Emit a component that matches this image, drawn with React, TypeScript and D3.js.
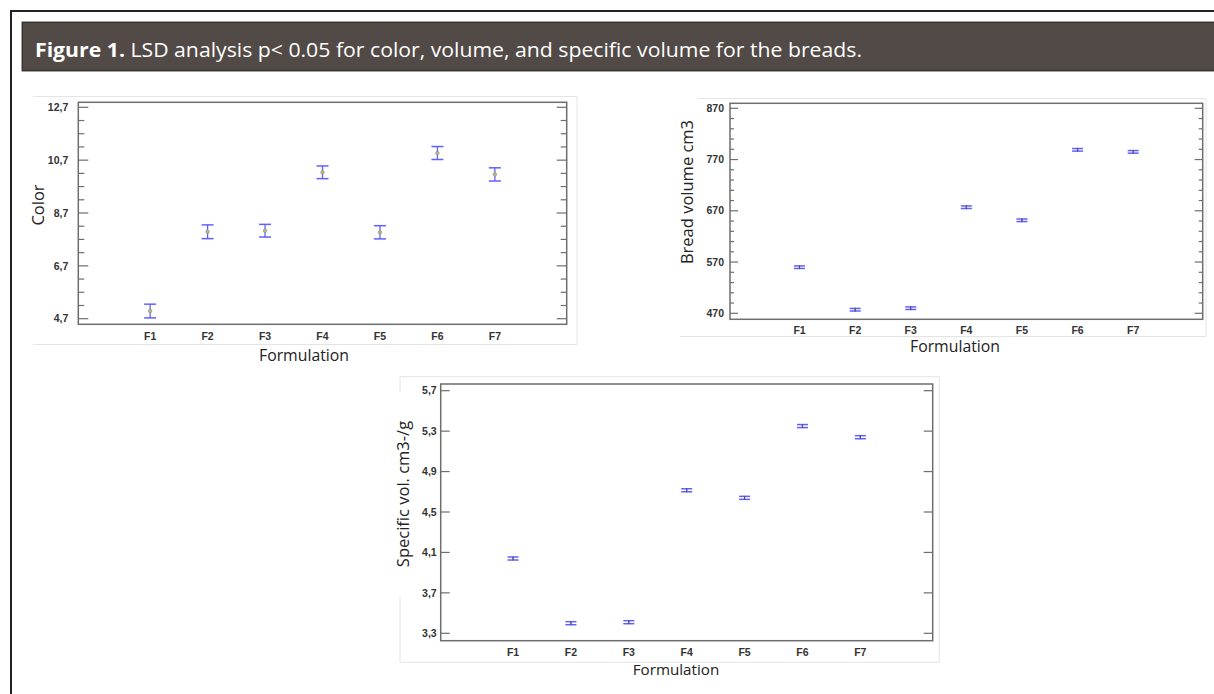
import React from "react";
import * as d3 from "d3";

const categories = ["F1", "F2", "F3", "F4", "F5", "F6", "F7"];

const colorMeans = [4.99, 7.99, 8.03, 10.24, 7.97, 10.97, 10.16];
const colorErrors = [0.26, 0.26, 0.24, 0.24, 0.25, 0.245, 0.25];
const colorTicks = [4.7, 6.7, 8.7, 10.7, 12.7];

const volumeMeans = [560, 477, 480, 677, 651.5, 789, 785];
const volumeErrors = [2.5, 2.5, 2.5, 2.5, 2.5, 2.5, 2.5];
const volumeTicks = [470, 570, 670, 770, 870];

const specMeans = [4.04, 3.4, 3.41, 4.715, 4.64, 5.35, 5.24];
const specErrors = [0.015, 0.015, 0.015, 0.015, 0.015, 0.015, 0.015];
const specTicks = [3.3, 3.7, 4.1, 4.5, 4.9, 5.3, 5.7];

const TITLE_BOLD = "Figure 1.";
const TITLE_REST = " LSD analysis p< 0.05 for color, volume, and specific volume for the breads.";

type ChartCfg = {
  means: number[];
  errors: number[];
  ticks: number[];
  minorStep: number;
  decimals: number;
  frame: { l: number; r: number; t: number; b: number };
  yPix: [number, number];
  majorLen: number;
  minorLen: number;
  labelGap: number;
  catY: number;
  yLabel: string;
  yLabelPos: [number, number];
  xLabelPos: [number, number];
  xLabelSize: number;
  capHalf: number;
  showDot: boolean;
  panel: { top: [number, number, number]; bottom: [number, number, number]; right?: [number, number, number]; left?: [number, number, number][] };
};

const tickFont = "'Liberation Sans', Arial, sans-serif";
const textFont = "'Open Sans', 'Noto Sans', sans-serif";
const axisColor = "#6e6e6e";
const barColor = "#6060ff";
const panelColor = "#e4e4e4";

function Chart({ c }: { c: ChartCfg }) {
  const lo = c.ticks[0];
  const hi = c.ticks[c.ticks.length - 1];
  const y = d3.scaleLinear().domain([lo, hi]).range(c.yPix);
  const x = d3.scalePoint<string>().domain(categories).range([c.frame.l, c.frame.r]).padding(1.25);
  const minors: number[] = [];
  if (c.minorStep > 0) {
    const n = Math.round((hi - lo) / c.minorStep);
    for (let i = 0; i <= n; i++) minors.push(lo + i * c.minorStep);
  }
  const fmt = (v: number) => v.toFixed(c.decimals).replace(".", ",");
  const isMajor = (v: number) => c.ticks.some((t) => Math.abs(t - v) < 1e-6);
  const allTicks = minors.length ? minors : c.ticks;
  return (
    <g>
      <line x1={c.panel.top[0]} x2={c.panel.top[1]} y1={c.panel.top[2]} y2={c.panel.top[2]} stroke={panelColor} />
      <line x1={c.panel.bottom[0]} x2={c.panel.bottom[1]} y1={c.panel.bottom[2]} y2={c.panel.bottom[2]} stroke={panelColor} />
      {c.panel.right && (
        <line x1={c.panel.right[0]} x2={c.panel.right[0]} y1={c.panel.right[1]} y2={c.panel.right[2]} stroke={panelColor} />
      )}
      {c.panel.left &&
        c.panel.left.map((s, i) => (
          <line key={i} x1={s[0]} x2={s[0]} y1={s[1]} y2={s[2]} stroke={panelColor} />
        ))}
      <rect x={c.frame.l} y={c.frame.t} width={c.frame.r - c.frame.l} height={c.frame.b - c.frame.t} fill="#fff" stroke={axisColor} strokeWidth={1.5} />
      {allTicks.map((v, i) => {
        const len = isMajor(v) ? c.majorLen : c.minorLen;
        const yy = y(v);
        return (
          <g key={i}>
            <line x1={c.frame.l} x2={c.frame.l + len} y1={yy} y2={yy} stroke={axisColor} strokeWidth={1.2} />
            <line x1={c.frame.r} x2={c.frame.r - len} y1={yy} y2={yy} stroke={axisColor} strokeWidth={1.2} />
          </g>
        );
      })}
      {c.ticks.map((v, i) => (
        <text key={i} x={c.frame.l - c.labelGap} y={y(v)} dy="0.35em" textAnchor="end" fontFamily={tickFont} fontWeight="bold" fontSize={10.5} fill="#333">
          {fmt(v)}
        </text>
      ))}
      {categories.map((cat) => (
        <text key={cat} x={x(cat)} y={c.catY} dy="0.35em" textAnchor="middle" fontFamily={tickFont} fontWeight="bold" fontSize={10.5} fill="#333">
          {cat}
        </text>
      ))}
      {categories.map((cat, i) => {
        const cx = x(cat) as number;
        const top = y(c.means[i] + c.errors[i]);
        const bot = y(c.means[i] - c.errors[i]);
        const m = y(c.means[i]);
        return (
          <g key={cat}>
            <line x1={cx} x2={cx} y1={top} y2={bot} stroke={barColor} strokeWidth={1.3} />
            <line x1={cx - c.capHalf} x2={cx + c.capHalf} y1={top} y2={top} stroke={barColor} strokeWidth={1.5} />
            <line x1={cx - c.capHalf} x2={cx + c.capHalf} y1={bot} y2={bot} stroke={barColor} strokeWidth={1.5} />
            {c.showDot ? (
              <circle cx={cx} cy={m} r={1.8} fill="#b8b890" stroke="#909070" strokeWidth={0.6} />
            ) : (
              <line x1={cx} x2={cx} y1={m - 2} y2={m + 2} stroke="#555" strokeWidth={1} />
            )}
          </g>
        );
      })}
      <text x={c.yLabelPos[0]} y={c.yLabelPos[1]} transform={`rotate(-90 ${c.yLabelPos[0]} ${c.yLabelPos[1]})`} dy="0.35em" textAnchor="middle" fontFamily={textFont} fontSize={16.5} fill="#222">
        {c.yLabel}
      </text>
      <rect x={c.xLabelPos[0] - 50} y={c.xLabelPos[1] - 6} width={100} height={14} fill="#fff" />
      <text x={c.xLabelPos[0]} y={c.xLabelPos[1]} dy="0.35em" textAnchor="middle" fontFamily={textFont} fontSize={c.xLabelSize} fill="#222">
        Formulation
      </text>
    </g>
  );
}

const chartColor: ChartCfg = {
  means: colorMeans,
  errors: colorErrors,
  ticks: colorTicks,
  minorStep: 0.5,
  decimals: 1,
  frame: { l: 78.3, r: 566.7, t: 102.3, b: 324.3 },
  yPix: [318.7, 107.3],
  majorLen: 10,
  minorLen: 6,
  labelGap: 10,
  catY: 336.7,
  yLabel: "Color",
  yLabelPos: [38.3, 205],
  xLabelPos: [304, 355],
  xLabelSize: 15.8,
  capHalf: 6,
  showDot: true,
  panel: { top: [33, 577, 96.5], bottom: [33, 577, 344.5], right: [577, 96.5, 344.5] },
};

const chartVolume: ChartCfg = {
  means: volumeMeans,
  errors: volumeErrors,
  ticks: volumeTicks,
  minorStep: 20,
  decimals: 0,
  frame: { l: 730, r: 1202.7, t: 103.3, b: 319.3 },
  yPix: [313.3, 108.3],
  majorLen: 8,
  minorLen: 4,
  labelGap: 6,
  catY: 330.7,
  yLabel: "Bread volume cm3",
  yLabelPos: [687, 192],
  xLabelPos: [955, 346.5],
  xLabelSize: 15.8,
  capHalf: 5.5,
  showDot: false,
  panel: { top: [698, 1206, 98.5], bottom: [680, 1206, 336.5], right: [1206, 98.5, 336.5] },
};

const chartSpec: ChartCfg = {
  means: specMeans,
  errors: specErrors,
  ticks: specTicks,
  minorStep: 0,
  decimals: 1,
  frame: { l: 440.7, r: 932.7, t: 384, b: 640.7 },
  yPix: [633.3, 390.7],
  majorLen: 9,
  minorLen: 9,
  labelGap: 4,
  catY: 652.8,
  yLabel: "Specific vol. cm3-/g",
  yLabelPos: [403, 494],
  xLabelPos: [676, 669.5],
  xLabelSize: 15.2,
  capHalf: 5.5,
  showDot: false,
  panel: { top: [400, 939.3, 376.7], bottom: [400, 939.3, 662.3], right: [939.3, 376.7, 662.3], left: [[400, 376.7, 392], [400, 596, 662.3]] },
};

export default function App() {
  return (
    <svg width={1214} height={694} style={{ position: "absolute", left: 0, top: 0, background: "#fff" }}>
      <rect x={0} y={0} width={1214} height={694} fill="#fff" />
      <line x1={11} x2={1214} y1={11} y2={11} stroke="#222" strokeWidth={2} />
      <line x1={11} x2={11} y1={10} y2={694} stroke="#222" strokeWidth={2} />
      <rect x={22.3} y={22.3} width={1200} height={48.4} fill="#524a46" stroke="#3a3431" strokeWidth={1.5} />
      <text x={35} y={57} fontFamily={textFont} fontSize={19.5} fill="#fff" textLength={827} lengthAdjust="spacingAndGlyphs">
        <tspan fontWeight="bold">{TITLE_BOLD}</tspan>
        <tspan>{TITLE_REST}</tspan>
      </text>
      <Chart c={chartColor} />
      <Chart c={chartVolume} />
      <Chart c={chartSpec} />
    </svg>
  );
}
